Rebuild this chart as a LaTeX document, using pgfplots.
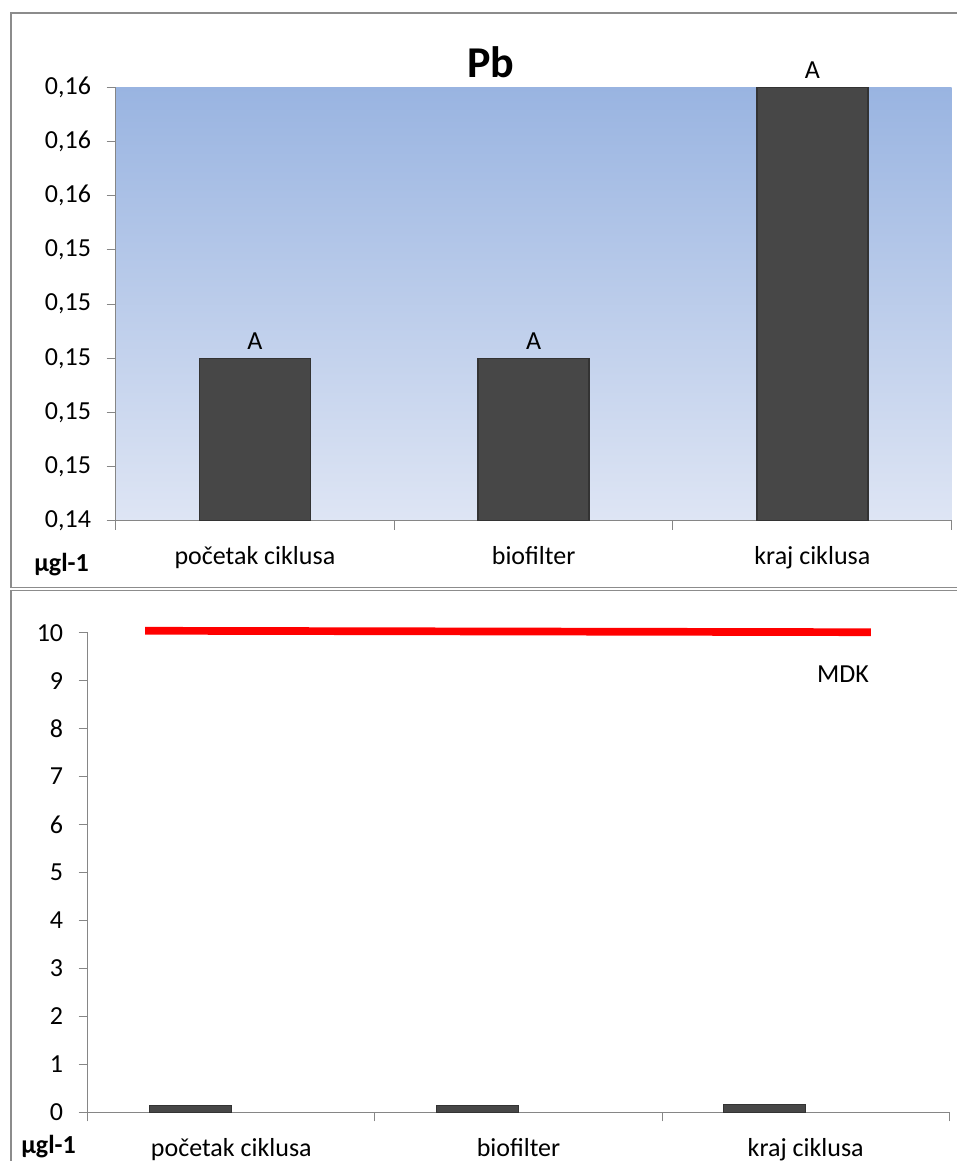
\documentclass[border=0pt]{standalone}
\usepackage{pgfplots}
\pgfplotsset{compat=1.18}
\usepackage{fontspec}
\setmainfont{Carlito}
\definecolor{axgray}{RGB}{134,134,134}
\definecolor{framegray}{RGB}{140,140,140}
\definecolor{bargray}{RGB}{71,71,71}
\definecolor{bgtop}{RGB}{153,180,225}
\definecolor{bgbot}{RGB}{222,229,244}
\pgfplotsset{
  common/.style={
    scale only axis,
    anchor=south west,
    xmin=-0.5, xmax=2.5,
    axis lines*=left,
    axis line style={axgray, line width=1pt},
    tick align=outside,
    major tick length=9pt,
    tick style={axgray, line width=1pt},
    xtick={-0.5,0.5,1.5,2.5},
    xticklabels={},
    extra x ticks={0,1,2},
    extra x tick labels={početak ciklusa, biofilter, kraj ciklusa},
    extra x tick style={major tick length=0pt, xticklabel style={anchor=base, yshift=-44pt}},
    tick label style={font=\fontsize{26}{30}\selectfont, black},
    yticklabel style={anchor=east, xshift=-12pt},
  }
}
\begin{document}
\begin{tikzpicture}
\useasboundingbox (0pt,0pt) rectangle (957pt,1161pt);
\draw[framegray, line width=1.5pt] (11pt,1148pt) rectangle (975pt,573.5pt);
\draw[framegray, line width=1.5pt] (11pt,570.5pt) rectangle (975pt,-20pt);

\begin{axis}[common,
  at={(115.5pt,640pt)}, width=836.2pt, height=433.7pt,
  ymin=0.144, ymax=0.160,
  ytick={0.144,0.146,0.148,0.150,0.152,0.154,0.156,0.158,0.160},
  yticklabels={{0,14},{0,15},{0,15},{0,15},{0,15},{0,15},{0,16},{0,16},{0,16}},
  axis background/.style={top color=bgtop, bottom color=bgbot},
]
\addplot[ybar, bar width=0.398, fill=bargray, draw=black!80, line width=1.5pt,
  nodes near coords={A},
  every node near coord/.append style={font=\fontsize{26}{30}\selectfont, black, anchor=base, yshift=9pt}]
  coordinates {(0,0.150) (1,0.150) (2,0.160)};
\end{axis}

\begin{axis}[common,
  at={(87.7pt,48.7pt)}, width=861.6pt, height=479.6pt,
  ymin=0, ymax=10,
  ytick={0,1,2,3,4,5,6,7,8,9,10},
  /pgf/number format/assume math mode=true,
  clip=false,
]
\addplot[ybar, bar width=0.2855, bar shift=-0.1435, fill=bargray, draw=black!80, line width=1pt]
  coordinates {(0,0.15) (1,0.15) (2,0.16)};
\addplot[sharp plot, red, line width=7.7pt, mark=none]
  coordinates {(-0.30,10.04) (2.227,10.01)};
\end{axis}

\node[font=\bfseries\fontsize{44}{50}\selectfont, anchor=base] at (491pt,1083pt) {Pb};
\node[font=\bfseries\fontsize{26}{30}\selectfont, anchor=base east, inner sep=0pt] at (89pt,589pt) {µgl-1};
\node[font=\bfseries\fontsize{26}{30}\selectfont, anchor=base east, inner sep=0pt] at (76pt,8pt) {µgl-1};
\node[font=\fontsize{26}{30}\selectfont, anchor=base east, inner sep=0pt] at (869pt,478.7pt) {MDK};
\end{tikzpicture}
\end{document}
